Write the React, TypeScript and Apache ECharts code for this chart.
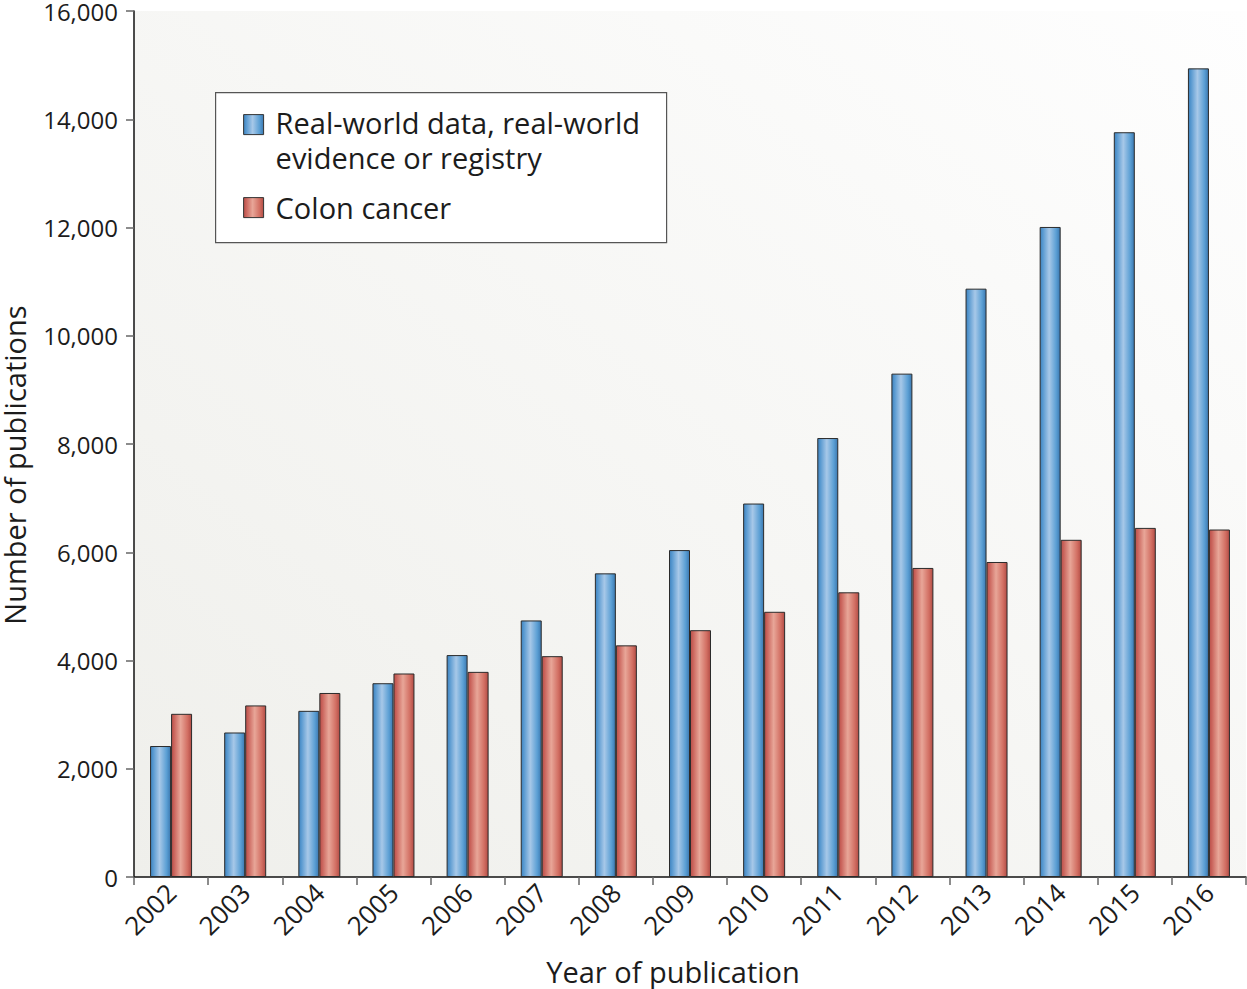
import React, { useEffect, useRef } from "react";
import * as echarts from "echarts";

const years = ["2002", "2003", "2004", "2005", "2006", "2007", "2008", "2009", "2010", "2011", "2012", "2013", "2014", "2015", "2016"];
const realWorld = [2420, 2670, 3070, 3580, 4100, 4740, 5610, 6040, 6900, 8110, 9300, 10870, 12010, 13760, 14940];
const colonCancer = [3015, 3170, 3400, 3760, 3790, 4080, 4280, 4560, 4900, 5260, 5710, 5820, 6230, 6450, 6420];
const seriesNames = ["Real-world data, real-world evidence or registry", "Colon cancer"];
const legendLines = [["Real-world data, real-world", "evidence or registry"], ["Colon cancer"]];
const yTicks = { min: 0, max: 16000, interval: 2000 };
const xName = "Year of publication";
const yName = "Number of publications";

const FONT = "'Open Sans', Lato, sans-serif";

const blueGrad = () =>
  new echarts.graphic.LinearGradient(0, 0, 1, 0, [
    { offset: 0, color: "#3f82bd" },
    { offset: 0.12, color: "#5597cf" },
    { offset: 0.45, color: "#a7c8e8" },
    { offset: 0.8, color: "#5b9fd4" },
    { offset: 1, color: "#3b78b0" },
  ]);
const redGrad = () =>
  new echarts.graphic.LinearGradient(0, 0, 1, 0, [
    { offset: 0, color: "#b9504a" },
    { offset: 0.12, color: "#c9625a" },
    { offset: 0.45, color: "#e8a698" },
    { offset: 0.8, color: "#d26f63" },
    { offset: 1, color: "#b24c45" },
  ]);

export default function App() {
  const ref = useRef<HTMLDivElement>(null);
  useEffect(() => {
    if (!ref.current) return;
    const chart = echarts.init(ref.current, undefined, { renderer: "svg" });
    const textColor = "#1c1c1c";
    const legendText = (text: string, y: number) => ({
      type: "text",
      x: 60,
      y,
      style: { text, fontSize: 29, lineHeight: 31, fill: textColor, fontFamily: FONT, verticalAlign: "middle" },
    });
    chart.setOption({
      animation: false,
      backgroundColor: "#ffffff",
      textStyle: { fontFamily: FONT },
      grid: {
        left: 134,
        right: 1,
        top: 11,
        bottom: 112,
        containLabel: false,
        outerBoundsMode: "none",
        show: true,
        borderWidth: 0,
        backgroundColor: new echarts.graphic.LinearGradient(0, 1, 1, 0, [
          { offset: 0, color: "#efefeb" },
          { offset: 1, color: "#fefefe" },
        ]),
      },
      xAxis: {
        type: "category",
        data: years,
        name: xName,
        nameLocation: "middle",
        nameGap: 80,
        nameTextStyle: { fontSize: 29, color: textColor, fontFamily: FONT, padding: [0, 34, 0, 0] },
        axisLine: { show: true, lineStyle: { color: "#111", width: 1.5 } },
        axisTick: { show: true, length: 8, lineStyle: { color: "#666", width: 1.5 } },
        axisLabel: { rotate: 45, margin: 11, fontSize: 26, color: textColor, fontFamily: FONT, interval: 0 },
      },
      yAxis: {
        type: "value",
        min: yTicks.min,
        max: yTicks.max,
        interval: yTicks.interval,
        name: yName,
        nameLocation: "middle",
        nameGap: 105,
        nameRotate: 90,
        nameTextStyle: { fontSize: 29, color: textColor, fontFamily: FONT, padding: [0, 42, 0, 0] },
        axisLine: { show: true, lineStyle: { color: "#111", width: 1.5 } },
        axisTick: { show: true, length: 8, lineStyle: { color: "#666", width: 1.5 } },
        splitLine: { show: false },
        axisLabel: {
          margin: 16,
          fontSize: 24,
          color: textColor,
          fontFamily: FONT,
          formatter: (v: number) => v.toLocaleString("en-US"),
        },
      },
      series: [
        {
          name: seriesNames[0],
          type: "bar",
          data: realWorld,
          barWidth: 21,
          barGap: "0%",
          itemStyle: { color: blueGrad(), borderColor: "#2b2b2b", borderWidth: 1 },
        },
        {
          name: seriesNames[1],
          type: "bar",
          data: colonCancer,
          barWidth: 21,
          barGap: "0%",
          itemStyle: { color: redGrad(), borderColor: "#2b2b2b", borderWidth: 1 },
        },
      ],
      graphic: [
        {
          type: "group",
          left: 215,
          top: 92,
          children: [
            {
              type: "rect",
              shape: { x: 0, y: 0, width: 451, height: 150 },
              style: { fill: "#ffffff", stroke: "#555", lineWidth: 1.2 },
            },
            {
              type: "rect",
              shape: { x: 28, y: 22, width: 20, height: 20 },
              style: { fill: blueGrad(), stroke: "#333", lineWidth: 1 },
            },
            legendText(legendLines[0][0], 30),
            legendText(legendLines[0][1], 65),
            {
              type: "rect",
              shape: { x: 28, y: 105, width: 20, height: 20 },
              style: { fill: redGrad(), stroke: "#333", lineWidth: 1 },
            },
            legendText(legendLines[1][0], 115),
          ],
        },
      ],
    });
    return () => chart.dispose();
  }, []);
  return (
    <div
      ref={ref}
      style={{ position: "fixed", left: 0, top: 0, width: 1247, height: 989, background: "#fff" }}
    />
  );
}
